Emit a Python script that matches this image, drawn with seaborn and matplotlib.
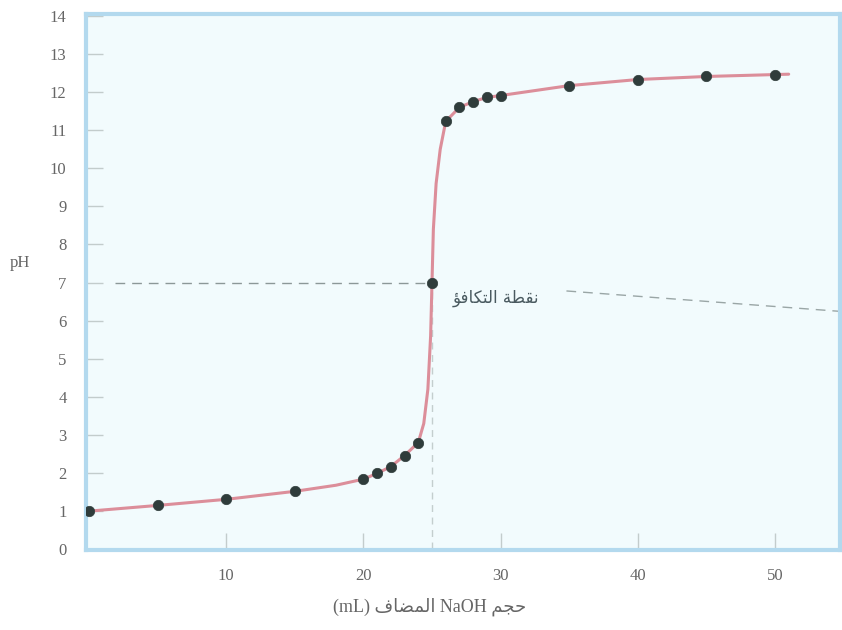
import numpy as np
import pandas as pd
import matplotlib
matplotlib.use("Agg")
import matplotlib.pyplot as plt
import seaborn as sns

sns.set_theme(style="white")
plt.rcParams['font.family'] = ['Liberation Serif', 'DejaVu Sans']

# measured points (volume NaOH in mL, pH)
vol = [0, 5, 10, 15, 20, 21, 22, 23, 24, 25, 26, 27, 28, 29, 30, 35, 40, 45, 50]
ph = [1.0, 1.15, 1.31, 1.52, 1.84, 1.99, 2.17, 2.46, 2.80, 7.0,
      11.23, 11.6, 11.75, 11.86, 11.91, 12.17, 12.33, 12.41, 12.46]

# the smooth curve
curve_vol = [0, 5, 10, 15, 18, 20, 21, 22, 23, 24, 24.4, 24.7, 24.9, 25,
             25.1, 25.3, 25.6, 26, 27, 28, 29, 30, 35, 40, 45, 50, 51]
curve_ph = [1.0, 1.15, 1.31, 1.52, 1.68, 1.84, 1.99, 2.17, 2.46, 2.80, 3.3,
            4.2, 5.6, 7.0, 8.4, 9.6, 10.5, 11.23, 11.6, 11.75, 11.86, 11.91,
            12.17, 12.33, 12.41, 12.46, 12.47]

x_ticks = [10, 20, 30, 40, 50]
y_ticks = list(range(0, 15))

equiv_vol = 25
equiv_ph = 7

# Arabic text written in visual order with presentation forms
label_equiv = "\uFE86\uFED3\uFE8E\uFEDC\uFE98\uFEDF\uFE8D \uFE94\uFEC4\uFED8\uFEE7"
label_x = ("(mL) \uFED1\uFE8E\uFEC0\uFEE4\uFEDF\uFE8D NaOH "
           "\uFEE2\uFEA0\uFEA3")

df_pts = pd.DataFrame({'vol': vol, 'ph': ph})
df_curve = pd.DataFrame({'vol': curve_vol, 'ph': curve_ph})

fig = plt.figure(figsize=(8.42, 6.3), dpi=100)
fig.patch.set_facecolor('white')
ax = fig.add_axes([86/842, 1 - 550/630, 754/842, 536/630])
ax.set_facecolor('#f2fbfd')

# dashed guides at the equivalence point
ax.plot([1.9, equiv_vol], [equiv_ph, equiv_ph], color='#8c9898', lw=1,
        dashes=(7, 5), zorder=1)
ax.plot([equiv_vol, equiv_vol], [0, equiv_ph], color='#c4cece', lw=1,
        dashes=(5, 4), zorder=1)
ax.plot([34.8, 54.9], [6.78, 6.24], color='#9aa6a6', lw=1,
        dashes=(7, 5), zorder=1, clip_on=False)

sns.lineplot(data=df_curve, x='vol', y='ph', ax=ax, color='#dc8e9a', lw=2.2,
             sort=False, zorder=2)
sns.scatterplot(data=df_pts, x='vol', y='ph', ax=ax, color='#2f3c3b', s=56,
                edgecolor='#2f3c3b', linewidth=0.5, zorder=3)

ax.text(26.5, 6.6, label_equiv, family='DejaVu Sans', fontsize=12,
        color='#4a5a60', ha='left', va='center')

ax.set_xlim(-0.22, 54.74)
ax.set_ylim(-0.02, 14.05)
ax.set_xticks(x_ticks)
ax.set_yticks(y_ticks)
ax.tick_params(axis='both', direction='in', length=12, width=1,
               color='#c3cccc', labelcolor='#666666', labelsize=12,
               left=True, bottom=True, pad=14)
ax.tick_params(axis='x', pad=13)

for s in ax.spines.values():
    s.set_color('#b3d9ee')
    s.set_linewidth(3)

ax.set_xlabel(label_x, fontsize=13, color='#666666')
ax.xaxis.set_label_coords(0.456, -0.088)
ax.set_ylabel('pH', fontsize=12, color='#666666', rotation=0)
ax.yaxis.set_label_coords(-0.087, 0.52)

fig.savefig('out.png', dpi=100)
